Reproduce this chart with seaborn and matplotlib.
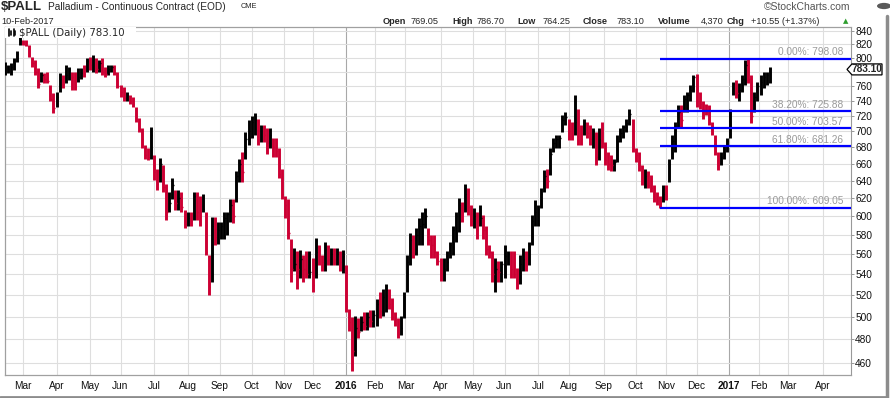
import numpy as np
import pandas as pd
import matplotlib
matplotlib.use("Agg")
import matplotlib.pyplot as plt
import seaborn as sns
from matplotlib.ticker import FuncFormatter, NullLocator, NullFormatter
from matplotlib.patches import Polygon, Rectangle, Circle
from matplotlib.transforms import IdentityTransform
from pandas.tseries.holiday import USFederalHolidayCalendar

# ---------------- data (2-trading-day bars, ending 10-Feb-2017) ----------------
last_date = "2017-02-10"
bar_step = 2
hi = [780, 794, 789, 792, 799, 809, 831, 826, 826, 818, 801, 796, 785, 780, 778, 780, 761, 750, 752, 778,
      775, 789, 787, 780, 780, 785, 785, 789, 799, 801, 804, 799, 796, 799, 787, 789, 789, 789, 780, 761,
      759, 752, 747, 745, 732, 717, 704, 683, 679, 705, 670, 654, 667, 658, 636, 627, 643, 629, 629, 627,
      607, 605, 605, 627, 627, 623, 625, 605, 559, 599, 599, 594, 594, 605, 605, 619, 619, 651, 666, 674,
      699, 714, 719, 724, 716, 708, 708, 704, 704, 691, 691, 679, 654, 623, 619, 576, 566, 563, 564, 559,
      563, 563, 556, 577, 570, 559, 573, 570, 566, 566, 566, 563, 564, 549, 507, 500, 501, 499, 501, 504,
      504, 506, 506, 516, 523, 526, 531, 526, 517, 504, 499, 501, 523, 559, 582, 580, 587, 598, 605, 609,
      587, 580, 580, 563, 556, 556, 563, 573, 590, 605, 620, 616, 636, 631, 612, 609, 605, 612, 601, 590,
      570, 563, 556, 553, 553, 570, 563, 563, 563, 546, 559, 566, 563, 573, 601, 618, 612, 631, 652, 654,
      679, 691, 695, 695, 721, 725, 716, 712, 747, 729, 708, 716, 712, 708, 704, 699, 704, 712, 687, 674,
      670, 666, 695, 704, 708, 716, 729, 716, 679, 674, 658, 654, 651, 647, 635, 627, 623, 635, 635, 666,
      695, 712, 734, 734, 747, 752, 761, 775, 776, 752, 739, 736, 734, 712, 695, 674, 674, 683, 691, 729,
      766, 768, 764, 775, 796, 798.08, 775, 752, 766, 775, 780, 780, 786.70]
lo = [766, 775, 778, 775, 782, 794, 818, 818, 817, 801, 787, 775, 757, 766, 764, 764, 739, 723, 732, 752,
      757, 764, 768, 754, 754, 766, 770, 773, 780, 782, 780, 778, 780, 775, 773, 775, 780, 775, 757, 745,
      739, 739, 736, 732, 712, 699, 679, 666, 664, 666, 641, 629, 639, 627, 596, 605, 619, 607, 607, 605,
      587, 590, 590, 596, 596, 589, 605, 559, 520, 533, 570, 571, 576, 576, 580, 594, 593, 616, 639, 639,
      666, 683, 691, 695, 683, 687, 687, 672, 679, 668, 668, 643, 619, 598, 576, 533, 543, 526, 536, 533,
      536, 536, 523, 536, 549, 543, 543, 549, 549, 549, 549, 543, 541, 504, 487, 453, 466, 481, 487, 488,
      488, 491, 491, 492, 499, 501, 504, 507, 497, 492, 481, 484, 499, 523, 549, 556, 559, 570, 570, 587,
      570, 556, 556, 549, 534, 534, 543, 556, 559, 573, 583, 594, 605, 601, 590, 587, 576, 590, 576, 559,
      556, 533, 523, 533, 533, 536, 549, 536, 536, 526, 531, 543, 543, 549, 570, 590, 590, 609, 627, 631,
      647, 674, 679, 679, 699, 708, 689, 689, 695, 683, 683, 695, 691, 683, 679, 658, 664, 679, 658, 652,
      651, 651, 662, 687, 691, 699, 708, 674, 662, 651, 635, 631, 631, 627, 616, 612, 609.05, 616, 618, 639,
      666, 674, 704, 704, 725, 725, 739, 752, 732, 729, 716, 721, 708, 695, 670, 652, 658, 666, 674, 691,
      747, 743, 739, 752, 761, 764, 711, 725, 739, 747, 757, 761, 764.25]
cl = [776, 778, 783, 787, 795, 805, 825, 820, 819, 803, 792, 780, 762, 775, 770, 767, 742, 730, 745, 770,
      762, 775, 782, 772, 758, 772, 778, 776, 795, 790, 798, 784, 792, 780, 776, 784, 786, 778, 760, 752,
      744, 748, 740, 735, 716, 703, 690, 670, 668, 695, 650, 636, 660, 633, 605, 615, 635, 615, 620, 610,
      592, 598, 595, 622, 605, 600, 608, 562, 528, 590, 578, 585, 590, 598, 602, 612, 600, 645, 660, 650,
      690, 700, 712, 715, 700, 705, 695, 685, 695, 680, 675, 648, 625, 612, 582, 545, 550, 545, 555, 545,
      540, 542, 530, 562, 558, 552, 565, 555, 560, 555, 560, 552, 558, 510, 495, 470, 490, 486, 495, 492,
      500, 496, 502, 512, 505, 518, 525, 512, 500, 497, 485, 490, 518, 552, 575, 565, 580, 590, 592, 600,
      575, 570, 562, 553, 540, 545, 552, 570, 585, 600, 612, 605, 625, 610, 595, 600, 585, 598, 585, 565,
      562, 540, 545, 542, 550, 558, 560, 545, 540, 535, 550, 555, 548, 568, 595, 605, 608, 625, 645, 640,
      672, 685, 690, 692, 715, 718, 700, 695, 712, 700, 690, 710, 698, 690, 700, 668, 690, 685, 665, 660,
      658, 662, 688, 698, 705, 710, 722, 680, 670, 662, 640, 645, 635, 632, 620, 618, 615, 625, 622, 660,
      688, 705, 725, 715, 742, 748, 755, 772, 740, 735, 728, 725, 712, 698, 675, 658, 668, 678, 688, 722,
      762, 750, 755, 770, 790, 770, 720, 745, 760, 765, 772, 775, 783.10]

fib_levels = [798.08, 725.88, 703.57, 681.26, 609.05]
fib_labels = ["0.00%: 798.08", "38.20%: 725.88", "50.00%: 703.57", "61.80%: 681.26", "100.00%: 609.05"]
y_ticks = list(range(460, 841, 20))
month_starts = pd.date_range("2015-03-01", "2017-04-01", freq="MS")

header_title = "$PALL"
header_name = "Palladium - Continuous Contract (EOD)"
header_exch = "CME"
header_date = "10-Feb-2017"
header_stats = [("Open", True), ("769.05", False), ("High", True), ("786.70", False),
                ("Low", True), ("764.25", False), ("Close", True), ("783.10", False),
                ("Volume", True), ("4,370", False), ("Chg", True), ("+10.55 (+1.37%)", False)]
stats_x = [383, 411, 452, 477, 517, 543, 583, 617, 658, 701, 727, 751]
legend_text = "$PALL (Daily) 783.10"
last_close = 783.10
last_close_text = "783.10"

# ---------------- style ----------------
sns.set_theme(style="white", context="paper")
plt.rcParams['font.family'] = ['Liberation Sans', 'DejaVu Sans']

W, H = 890, 398
fig = plt.figure(figsize=(W / 100, H / 100), dpi=100)
fig.patch.set_facecolor("white")

ax_l, ax_r, ax_t, ax_b = 4.7, 851.0, 27.0, 375.0
ax = fig.add_axes([ax_l / W, 1 - ax_b / H, (ax_r - ax_l) / W, (ax_b - ax_t) / H])
ax.set_facecolor("white")

# trading calendar
hol = USFederalHolidayCalendar().holidays("2014-12-01", "2017-12-31")
cal = pd.bdate_range("2015-01-01", "2017-06-30", freq="C", holidays=hol)
end_pos = cal.get_loc(pd.Timestamp(last_date))
n = len(cl)
pos = np.array([end_pos - bar_step * (n - 1 - k) for k in range(n)], dtype=float)

df = pd.DataFrame({"pos": pos, "hi": hi, "lo": lo, "cl": cl})
df["up"] = df["cl"].diff().fillna(1) >= 0
UP, DOWN = "#000000", "#cc0033"
df["color"] = np.where(df["up"], UP, DOWN)

# x scale calibrated to month gridlines
tick_pos = [cal.searchsorted(m) for m in month_starts]
ppd = (823 - 23) / (tick_pos[-1] - tick_pos[0])
x_left = tick_pos[0] - (23 - ax_l) / ppd
x_right = x_left + (ax_r - ax_l) / ppd

ax.set_yscale("log")
ax.set_xlim(x_left, x_right)
ax.set_ylim(449.9, 845.7)

# grid
for tp, m in zip(tick_pos, month_starts):
    ax.axvline(tp, color="#a8a8a8" if m.month == 1 else "#dedede", lw=0.8, zorder=0)
for yt in y_ticks:
    ax.axhline(yt, color="#dedede", lw=0.8, zorder=0)

# price bars
ax.vlines(df["pos"], df["lo"], df["hi"], colors=df["color"], linewidth=2.1, zorder=3)
ax.hlines(df["cl"], df["pos"], df["pos"] + 0.9, colors=df["color"], linewidth=1.0, zorder=3)

# Fibonacci retracement (starts at the swing low bar)
fib_start = df["pos"][lo.index(fib_levels[-1])]
for lvl, lab in zip(fib_levels, fib_labels):
    ax.hlines(lvl, fib_start, x_right, color="#0000ff", lw=1.6, zorder=4)
    ax.annotate(lab, xy=(1, lvl), xycoords=("axes fraction", "data"), xytext=(-5.8, 1.2),
                textcoords="offset points", ha="right", va="bottom", color="#9a9a9a",
                fontsize=7.3, zorder=5)

# axes cosmetics
ax.set_yticks(y_ticks)
ax.yaxis.set_major_formatter(FuncFormatter(lambda v, p: "" if round(v) == 780 else f"{v:.0f}"))
ax.yaxis.set_minor_locator(NullLocator())
ax.yaxis.set_minor_formatter(NullFormatter())
ax.yaxis.tick_right()
ax.tick_params(axis="y", which="major", direction="out", length=2, width=0.6,
               color="#888888", pad=1, labelsize=7.3, labelcolor="#111111")
ax.set_xticks(tick_pos)
ax.set_xticklabels([str(m.year) if m.month == 1 else m.strftime("%b") for m in month_starts])
for lbl, m in zip(ax.get_xticklabels(), month_starts):
    if m.month == 1:
        lbl.set_fontweight("bold")
        lbl.set_fontsize(8)
ax.tick_params(axis="x", length=0, pad=4, labelsize=7.3, labelcolor="#111111")
ax.set_xlabel("")
ax.set_ylabel("")
for side in ["left", "bottom", "top"]:
    ax.spines[side].set_color("#a0a0a0")
    ax.spines[side].set_linewidth(0.9)
ax.spines["right"].set_color("#999999")
ax.spines["right"].set_linestyle((0, (1, 1)))
ax.spines["right"].set_linewidth(0.8)

# legend box inside plot
ax.add_patch(Rectangle((0, 1 - 11 / 348), 131 / 846, 11 / 348, transform=ax.transAxes,
                       facecolor="white", edgecolor="none", zorder=6))
for dx, y0, y1 in [(8.5, 29, 36), (10.5, 30.5, 34.5), (13.5, 29, 36), (15.5, 31, 35)]:
    fig.add_artist(plt.Line2D([dx / W, dx / W], [1 - y1 / H, 1 - y0 / H], color="black", lw=1.2))
fig.text(19 / W, 1 - 33 / H, legend_text, fontsize=7.3, family="DejaVu Sans", va="center", ha="left")

# outer frame lines (right and bottom)
fig.add_artist(plt.Line2D([886.5 / W, 886.5 / W], [0, 1 - 16 / H], color="#8c8c8c", lw=2.5))
fig.add_artist(plt.Line2D([0, 886.5 / W], [1.5 / H, 1.5 / H], color="#8c8c8c", lw=2.0))
fig.add_artist(Circle((884 / W, 1 - 6 / H), 7 / W, transform=fig.transFigure, facecolor="#5a5a5a",
                      edgecolor="none"))

# last price tag on right axis
fig.canvas.draw()
yp = ax.transData.transform((x_left, last_close))[1]
tag = Polygon([(847, yp), (852, yp + 5.5), (882, yp + 5.5), (882, yp - 5.5), (852, yp - 5.5)],
              closed=True, facecolor="white", edgecolor="black", lw=0.9,
              transform=IdentityTransform(), zorder=5)
fig.add_artist(tag)
fig.text(867 / W, yp / H, last_close_text, fontsize=7.3, fontweight="bold", ha="center", va="center",
         zorder=6)

# header
fig.text(1 / W, 1 - 7 / H, header_title, fontsize=9.5, fontweight="bold", va="center", ha="left")
fig.text(48 / W, 1 - 7 / H, header_name, fontsize=7.3, va="center", ha="left")
fig.text(241 / W, 1 - 7 / H, header_exch, fontsize=5.3, va="center", ha="left")
fig.text(1 / W, 1 - 21 / H, header_date, fontsize=6.6, va="center", ha="left")
for (txt, bold), xs in zip(header_stats, stats_x):
    fig.text(xs / W, 1 - 21 / H, txt, fontsize=6.6, fontweight="bold" if bold else "normal",
             va="center", ha="left")
fig.text(843 / W, 1 - 21 / H, "\u25B2", fontsize=5, color="#2e9e2e", va="center", ha="left",
         family="DejaVu Sans")
fig.text(850 / W, 1 - 7.5 / H, "\u00A9StockCharts.com", fontsize=7.5, color="#555555",
         va="center", ha="right")

fig.savefig("out.png", dpi=100, facecolor="white")
